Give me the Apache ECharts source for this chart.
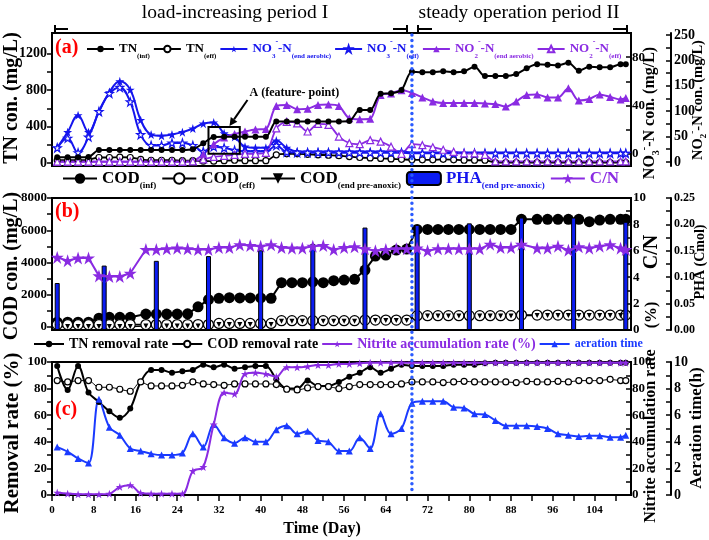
<!DOCTYPE html>
<html>
<head>
<meta charset="utf-8">
<script src="https://cdn.jsdelivr.net/npm/echarts@6.0.0/dist/echarts.min.js"></script>
<style>
html,body{margin:0;padding:0;background:#ffffff;}
#chart{width:709px;height:540px;}
</style>
</head>
<body>
<div id="chart"></div>
<script>
// ---------------- DATA ----------------
const days = [1,3,5,7,9,11,13,15,17,19,
  21,23,25,27,29,31,33,35,37,39,
  41,43,45,47,49,51,53,55,57,59,
  61,63,65,67,69,71,73,75,77,79,
  81,83,85,87,89,91,93,95,97,99,
  101,103,105,107,109,110];

// panel (a)
const tnInf = [62,62,62,65,142,142,142,142,142,142,
  142,142,142,150,216,285,288,288,288,288,
  288,455,455,455,455,455,455,455,460,580,
  580,760,765,800,1000,995,995,1005,995,1005,
  1056,953,953,953,975,1038,1082,1078,1070,1100,
  1012,1056,1049,1049,1082,1082];
const tnEff = [30,30,30,35,60,60,65,60,40,30,
  30,30,25,25,20,20,25,30,25,25,
  25,90,100,100,95,90,85,80,70,60,
  55,50,45,40,35,35,35,40,35,30,
  30,30,5,4,4,4,4,4,4,4,
  4,4,4,4,4,4];
const no3End = [5,18,32,18,35,51,60,53,28,16,
  15,16,18,21,25,26,17,14,6,5,
  5,11,5,2,2,2,2,2,2,2,
  2,2,2,2,1,1,1,1,1,1,
  1,1,1,1,1,1,1,1,1,1,
  1,1,1,1,1,1];
const no3Eff = [5,13,1,14,35,50,55,43,16,7,
  7,9,9,7,2,6,5,3,2,2,
  2,7,1.5,1,1,1,1,1,1,1,
  1,1,1,1,0.5,0.5,0.5,0.5,0.5,0.5,
  0.5,0.5,0.5,0.5,0.5,0.5,0.5,0.5,0.5,0.5,
  0.5,0.5,0.5,0.5,0.5,0.5];
const no2End = [0.5,0.5,0.5,0.5,0.5,0.5,0.5,0.5,0.5,0.5,
  0.5,0.5,0.5,2,15,35,48,55,60,64,
  65,110,112,104,105,112,113,110,86,84,
  85,132,135,141,136,127,119,116,116,116,
  116,115,114,109,119,132,133,127,127,145,
  121,124,133,128,123,126];
const no2Eff = [0.5,0.5,0.5,0.5,0.5,0.5,0.5,0.5,0.5,0.5,
  0.5,0.5,0.5,1,5,10,12,14,16,16,
  18,66,79,76,60,75,73,50,37,35,
  43,40,30,16,35,33,29,24,20,17,
  17,14,1,1,1,1,1,1,1,1,
  1,1,1,1,1,1];

// panel (b)
const codDays = [1,3,5,7,9,11,13,15,
  18,20,22,24,26,28,30,32,34,36,38,40,42,
  44,46,48,50,52,54,56,58,
  60,62,64,66,68,
  70,72,74,76,78,80,82,84,86,88,
  90,
  93,95,97,99,101,103,105,107,109,110];
const codInf = [300,300,300,300,550,600,600,600,
  800,800,800,800,820,1250,1700,1780,1820,1800,1800,1800,1780,
  2750,2750,2750,2800,2750,2870,2910,2960,
  3530,4400,4460,4770,4830,
  6050,6050,6050,6050,6050,6050,6050,6050,6050,6050,
  6680,
  6680,6680,6680,6680,6680,6530,6630,6680,6680,6680];
const codEff = [150,150,150,150,150,150,150,150,
  150,150,150,150,150,150,150,220,220,220,220,220,220,
  390,390,390,390,390,390,390,390,
  430,430,430,430,430,
  700,700,700,700,700,700,700,700,700,700,
  740,
  740,740,740,740,740,740,740,740,740,740];
const codPre = [30,30,30,30,30,30,30,30,
  60,60,60,60,60,60,60,150,150,150,150,150,150,
  360,360,360,360,360,360,360,360,
  400,400,400,400,400,
  680,680,680,680,680,680,680,680,680,680,
  720,
  720,720,720,720,720,720,720,720,720,720];
const cnRatio = [5.5,5.25,5.45,5.45,4.1,4.05,4.05,4.3,
  6.1,6.1,6.15,6.2,6.15,6.1,6.1,6.25,6.25,6.45,6.4,6.35,6.45,
  6.25,6.2,6.2,6.35,6.4,6.1,6.25,6.3,
  6.15,6.0,6.1,6.15,6.15,
  6.2,6.0,6.15,6.15,6.15,6.15,6.15,6.5,6.25,6.25,
  6.5,
  6.2,6.2,6.35,6.05,6.3,6.2,6.35,6.45,6.2,6.1];
const phaDays = [1,10,20,30,40,50,60,70,80,90,100,110];
const phaValues = [0.089,0.122,0.131,0.140,0.151,0.163,0.194,0.199,0.202,0.213,0.213,0.205];

// panel (c)
const tnRemoval = [97,79,97,77,70,63,58,65,85,94,
  94,92,93,94,98,96,98,95,96,97,
  97,87,80,80,86,82,82,85,89,92,
  96,92,95,98,97,97,97,97,98,98,
  98,99,99.5,99.5,99.5,99.5,99.5,99.5,99.5,99.5,
  99.5,99.5,99.5,99.5,99.5,99.5];
const codRemoval = [86,85,86,86,81,81,79.5,78,85,82,
  82,82,82.5,85,83.5,83,82.5,83.5,83.5,83.5,
  83.5,83,79.5,79,80.5,81.5,81.5,80,81.5,83,
  83,83,83,83.5,85,85,85,84.5,85,85.5,
  85,85,85,85,84.5,85.5,85,85,85.5,85,
  86,86,86,87,86,86];
const nitriteAcc = [1.8,1,0.5,0.5,0.5,1,6,7.4,1.5,1,
  1,1,1,18,21,53,77,76,91,92,
  91,89,96,96,96.6,97.7,97.7,98.5,98.5,99,
  99.5,99.5,99.5,99.5,99.5,99.5,99.5,99.5,99.5,99.5,
  99.5,99.5,99.5,99.5,99.5,99.5,99.5,99.5,99.5,99.5,
  99.5,99.5,99.5,99.5,99.5,99.5];
const aerationTime = [3.6,3.25,2.75,2.4,7.2,5.1,4.5,3.5,3.3,3.1,
  3.0,3.0,3.15,4.6,3.6,5.3,4.3,3.9,4.3,4.0,
  4.0,4.9,5.2,4.6,4.8,4.1,4.0,3.3,3.3,4.3,
  3.5,6.1,4.6,5.0,6.9,7.05,7.05,7.05,6.6,6.55,
  6.1,6.05,5.6,5.2,5.2,5.2,5.15,5.0,4.6,4.5,
  4.4,4.45,4.45,4.35,4.35,4.5];

// annotations
const periodBoundaryDay = 69;
const featureBox = {day0: 30, day1: 36, tn0: 100, tn1: 395};

// tick / label values
const xTicks = [0,4,8,12,16,20,24,28,32,36,40,44,48,52,56,60,64,68,72,76,80,84,88,92,96,100,104,108];
const xLabels = [0,8,16,24,32,40,48,56,64,72,80,88,96,104];
const tnTicks = [0,200,400,600,800,1000,1200];
const tnLabels = [0,400,800,1200];
const no3Ticks = [0,20,40,60,80];
const no3Labels = [0,40,80];
const no2Ticks = [0,25,50,75,100,125,150,175,200,225,250];
const no2Labels = [0,50,100,150,200,250];
const codTicks = [0,1000,2000,3000,4000,5000,6000,7000,8000];
const codLabels = [0,2000,4000,6000,8000];
const cnTicks = [0,1,2,3,4,5,6,7,8,9,10];
const cnLabels = [0,2,4,6,8,10];
const phaTicks = [0,0.025,0.05,0.075,0.1,0.125,0.15,0.175,0.2,0.225,0.25];
const phaLabels = [0,0.05,0.1,0.15,0.2,0.25];
const remTicks = [0,10,20,30,40,50,60,70,80,90,100];
const remLabels = [0,20,40,60,80,100];
const aerTicks = [0,1,2,3,4,5,6,7,8,9,10];
const aerLabels = [0,2,4,6,8,10];

// ---------------- STYLE ----------------
const F = 'Liberation Serif';
const BLACK = '#000000', BLUE = '#1515ee', PURPLE = '#8a2be2', ABLUE = '#1a3aff', RED = '#ff0000';
const STAR = 'path://M50,0 L61.8,35.3 L99,35.3 L69,57.1 L80.4,92.7 L50,70.7 L19.6,92.7 L31,57.1 L1,35.3 L38.2,35.3 Z';
const DTRI = 'path://M0,0 L10,0 L5,9 Z';
const GRIDS = [{top: 33, height: 133}, {top: 198, height: 132}, {top: 362, height: 133}];
const GL = 52, GR = 78;

const chart = echarts.init(document.getElementById('chart'), null, {renderer: 'canvas'});

function pts(xs, ys) { return xs.map((x, i) => [x, ys[i]]); }

function yax(gi, pos, min, max, ticks, labels, o) {
  o = o || {};
  const lab = {show: true, customValues: labels, fontFamily: F, fontWeight: 'bold',
    fontSize: o.fs || 13, color: '#000', margin: (o.margin != null ? o.margin : 5),
    formatter: o.fmt || (v => String(v))};
  return {
    type: 'value', gridIndex: gi, position: pos, min: min, max: max, offset: o.offset || 0,
    axisLine: {show: true, onZero: false, lineStyle: {color: '#000', width: 2}},
    axisTick: {show: true, inside: pos === 'right', length: 5, customValues: ticks,
      lineStyle: {color: '#000', width: 1.5}},
    axisLabel: lab,
    splitLine: {show: false}
  };
}

function lineS(name, xi, yi, xs, ys, o) {
  return {
    name: name, type: 'line', xAxisIndex: xi, yAxisIndex: yi, data: pts(xs, ys),
    smooth: o.smooth || false, symbol: o.symbol, symbolSize: o.size,
    lineStyle: {color: o.color, width: o.lw || 1.8},
    itemStyle: {color: o.hollow ? '#ffffff' : o.color, borderColor: o.color, borderWidth: o.hollow ? 1.2 : 0},
    z: o.z || 2, silent: true
  };
}

function richSet(main, sub, lh) {
  const mk = (c, fs, va, l) => ({color: c, fontFamily: F, fontWeight: 'bold', fontSize: fs, lineHeight: l, verticalAlign: va});
  return {
    k: mk(BLACK, main, 'middle', lh), ks: mk(BLACK, sub, 'bottom', sub + 1), ku: mk(BLACK, sub + 1, 'top', sub + 2),
    b: mk(BLUE, main, 'middle', lh), bs: mk(BLUE, sub, 'bottom', sub + 1), bu: mk(BLUE, sub + 1, 'top', sub + 2),
    p: mk(PURPLE, main, 'middle', lh), ps: mk(PURPLE, sub, 'bottom', sub + 1), pu: mk(PURPLE, sub + 1, 'top', sub + 2),
    a: mk(ABLUE, main, 'middle', lh)
  };
}

const legAText = {
  'TN(inf)': '{k|TN}{ks|(inf)}',
  'TN(eff)': '{k|TN}{ks|(eff)}',
  'NO3-N(end aerobic)': '{b|NO}{bs|3}{bu|-}{b|-N}{bs|(end aerobic)}',
  'NO3-N(eff)': '{b|NO}{bs|3}{bu|-}{b|-N}{bs|(eff)}',
  'NO2-N(end aerobic)': '{p|NO}{ps|2}{pu|-}{p|-N}{ps|(end aerobic)}',
  'NO2-N(eff)': '{p|NO}{ps|2}{pu|-}{p|-N}{ps|(eff)}'
};
const legBText = {
  'COD(inf)': '{k|COD}{ks|(inf)}',
  'COD(eff)': '{k|COD}{ks|(eff)}',
  'COD(end pre-anoxic)': '{k|COD}{ks|(end pre-anoxic)}',
  'PHA(end pre-anoxic)': '{b|PHA}{bs|(end pre-anoxic)}',
  'C/N': '{p|C/N}'
};
const legCText = {
  'TN removal rate': '{k|TN removal rate}',
  'COD removal rate': '{k|COD removal rate}',
  'Nitrite accumulation rate (%)': '{p|Nitrite accumulation rate (%)}',
  'aeration time': '{a|aeration time}'
};
const legCRich = richSet(14, 8, 20);
legCRich.a = {color: ABLUE, fontFamily: F, fontWeight: 'bold', fontSize: 12, lineHeight: 20, verticalAlign: 'middle'};

const option = {
  animation: false,
  backgroundColor: '#ffffff',
  grid: GRIDS.map(g => ({left: GL, right: GR, top: g.top, height: g.height, show: true,
    borderColor: '#000', borderWidth: 2, backgroundColor: 'transparent'})),
  xAxis: [0, 1, 2].map(i => ({
    type: 'value', gridIndex: i, min: 0, max: 111,
    axisLine: {show: true, onZero: false, lineStyle: {color: '#000', width: 2}},
    axisTick: i === 2 ? {show: true, length: 6, customValues: xTicks, lineStyle: {color: '#000', width: 1.5}} : {show: false},
    axisLabel: i === 2 ? {show: true, customValues: xLabels, fontFamily: F, fontWeight: 'bold', fontSize: 11, color: '#000', margin: 10, formatter: v => String(v)} : {show: false},
    splitLine: {show: false}
  })),
  yAxis: [
    yax(0, 'left', -33, 1425, tnTicks, tnLabels, {fs: 14}),
    yax(0, 'right', -10, 100, no3Ticks, no3Labels, {margin: 1}),
    yax(0, 'right', -8, 254, no2Ticks, no2Labels, {offset: 40, margin: 3, fs: 14}),
    yax(1, 'left', -186, 8000, codTicks, codLabels, {fs: 13}),
    yax(1, 'right', 0, 10, cnTicks, cnLabels, {margin: 2}),
    yax(1, 'right', 0, 0.25, phaTicks, phaLabels, {offset: 40, margin: 3, fs: 12, fmt: v => Number(v).toFixed(2)}),
    yax(2, 'left', 0, 100, remTicks, remLabels, {fs: 13}),
    yax(2, 'right', 0, 100, remTicks, remLabels, {margin: 1}),
    yax(2, 'right', 0, 10, aerTicks, aerLabels, {offset: 40, margin: 3, fs: 14})
  ],
  legend: [
    {left: 86, top: 38, padding: 0, itemWidth: 27, itemHeight: 8, itemGap: 3, selectedMode: false,
      data: Object.keys(legAText), formatter: n => legAText[n], textStyle: {rich: richSet(13, 7, 22)}},
    {left: 62, top: 170, padding: 0, itemWidth: 34, itemHeight: 13, itemGap: 5, selectedMode: false,
      data: Object.keys(legBText), formatter: n => legBText[n], textStyle: {rich: richSet(17, 9, 24)}},
    {left: 33, top: 337, padding: 0, itemWidth: 30, itemHeight: 8, itemGap: 3, selectedMode: false,
      data: Object.keys(legCText), formatter: n => legCText[n], textStyle: {rich: legCRich}}
  ],
  series: [
    // panel a
    lineS('TN(inf)', 0, 0, days, tnInf, {color: BLACK, symbol: 'circle', size: 6, smooth: 0.3, lw: 2, z: 4}),
    lineS('TN(eff)', 0, 0, days, tnEff, {color: BLACK, symbol: 'circle', size: 6, smooth: 0.3, lw: 1.8, hollow: true, z: 3}),
    lineS('NO3-N(end aerobic)', 0, 1, days, no3End, {color: BLUE, symbol: STAR, size: 9, smooth: 0.4, lw: 2, z: 3}),
    lineS('NO3-N(eff)', 0, 1, days, no3Eff, {color: BLUE, symbol: STAR, size: 8, smooth: 0.4, lw: 2, hollow: true, z: 3}),
    lineS('NO2-N(end aerobic)', 0, 2, days, no2End, {color: PURPLE, symbol: 'triangle', size: 8, smooth: 0.3, lw: 2, z: 3}),
    lineS('NO2-N(eff)', 0, 2, days, no2Eff, {color: PURPLE, symbol: 'triangle', size: 7, smooth: 0.3, lw: 1.8, hollow: true, z: 3}),
    // panel b
    lineS('COD(inf)', 1, 3, codDays, codInf, {color: BLACK, symbol: 'circle', size: 11, lw: 2, z: 2}),
    lineS('COD(eff)', 1, 3, codDays, codEff, {color: BLACK, symbol: 'circle', size: 10, lw: 1.5, hollow: true, z: 2}),
    lineS('COD(end pre-anoxic)', 1, 3, codDays, codPre, {color: BLACK, symbol: DTRI, size: 5, lw: 1.5, z: 2}),
    {name: 'PHA(end pre-anoxic)', type: 'bar', xAxisIndex: 1, yAxisIndex: 5, data: pts(phaDays, phaValues),
      barWidth: 5, itemStyle: {color: '#0b1cf2', borderColor: '#000', borderWidth: 1}, z: 3, silent: true},
    lineS('C/N', 1, 4, codDays, cnRatio, {color: PURPLE, symbol: STAR, size: 13, lw: 2, z: 4}),
    // panel c
    lineS('TN removal rate', 2, 6, days, tnRemoval, {color: BLACK, symbol: 'circle', size: 6, smooth: 0.35, lw: 2, z: 3}),
    lineS('COD removal rate', 2, 6, days, codRemoval, {color: BLACK, symbol: 'circle', size: 6, smooth: 0.3, lw: 1, hollow: true, z: 3}),
    lineS('Nitrite accumulation rate (%)', 2, 7, days, nitriteAcc, {color: PURPLE, symbol: STAR, size: 8, smooth: 0.35, lw: 2, z: 4}),
    lineS('aeration time', 2, 8, days, aerationTime, {color: ABLUE, symbol: 'triangle', size: 7, smooth: 0.35, lw: 2, z: 3})
  ]
};
chart.setOption(option);

// ---------------- ANNOTATIONS ----------------
function txt(x, y, text, fs, o) {
  o = o || {};
  return {type: 'text', x: x, y: y, rotation: o.rot || 0, silent: true, z: 50,
    style: {text: text, fontFamily: F, fontWeight: o.w || 'bold', fontSize: fs, fill: o.color || '#000',
      align: o.align || 'center', verticalAlign: 'middle', rich: o.rich}};
}
function seg(x1, y1, x2, y2, w, color, extra) {
  return {type: 'line', silent: true, z: 50, shape: {x1: x1, y1: y1, x2: x2, y2: y2},
    style: Object.assign({stroke: color || '#000', lineWidth: w || 2}, extra || {})};
}
function nameRich(fs, sfs) {
  return {
    m: {fontFamily: F, fontWeight: 'bold', fontSize: fs, lineHeight: fs + 6, verticalAlign: 'middle', color: '#000'},
    s: {fontFamily: F, fontWeight: 'bold', fontSize: sfs, lineHeight: sfs + 1, verticalAlign: 'bottom', color: '#000'},
    u: {fontFamily: F, fontWeight: 'bold', fontSize: sfs, lineHeight: sfs + 1, verticalAlign: 'top', color: '#000'}
  };
}
const R90 = Math.PI / 2;
const xb = chart.convertToPixel({xAxisIndex: 2}, periodBoundaryDay);
const p0 = chart.convertToPixel({xAxisIndex: 0, yAxisIndex: 0}, [featureBox.day0, featureBox.tn1]);
const p1 = chart.convertToPixel({xAxisIndex: 0, yAxisIndex: 0}, [featureBox.day1, featureBox.tn0]);
const hx = p0[0] + 21, hy = p0[1] - 1, tx = p0[0] + 39, ty = p0[1] - 27;
const ang = Math.atan2(hy - ty, hx - tx);
const ah = 8, aw = 4;
const bx = hx - ah * Math.cos(ang), by = hy - ah * Math.sin(ang);
const arrowHead = [[hx, hy], [bx + aw * Math.sin(ang), by - aw * Math.cos(ang)], [bx - aw * Math.sin(ang), by + aw * Math.cos(ang)]];

const gTop = GRIDS[0].top + 2, gBot = GRIDS[2].top + GRIDS[2].height;

chart.setOption({
  graphic: [
    // period titles and brackets
    txt(235, 13, 'load-increasing period I', 19.5, {w: 'normal'}),
    txt(519, 13, 'steady operation period II', 19.5, {w: 'normal'}),
    seg(55, 25, 55, 33), seg(55, 29, 68, 29),
    seg(393, 29, 407, 29), seg(407, 25, 407, 33),
    seg(418, 25, 418, 33), seg(418, 29, 432, 29),
    seg(613, 29, 627, 29), seg(627, 25, 627, 33),
    // panel labels
    txt(55, 48, '(a)', 20, {color: RED, align: 'left'}),
    txt(55, 212, '(b)', 20, {color: RED, align: 'left'}),
    txt(55, 410, '(c)', 20, {color: RED, align: 'left'}),
    // left axis names
    txt(12, 98, 'TN con. (mg/L)', 20, {rot: R90}),
    txt(12, 266, 'COD con. (mg/L)', 20, {rot: R90}),
    txt(13, 433, 'Removal rate (%)', 21, {rot: R90}),
    // right axis names
    txt(650, 113, '{m|NO}{s|3}{u|-}{m|-N con. (mg/L)}', 16, {rot: R90, rich: nameRich(16, 10)}),
    txt(698, 100, '{m|NO}{s|2}{u|-}{m|-N con. (mg/L)}', 14.5, {rot: R90, rich: nameRich(14.5, 9)}),
    txt(652, 252, 'C/N', 20, {rot: R90}),
    txt(700, 262, 'PHA (Cmol)', 14, {rot: R90}),
    txt(652, 315, '(%)', 16, {rot: R90}),
    txt(651, 436, 'Nitrite accumulation rate', 16, {rot: R90}),
    txt(697, 428, 'Aeration time(h)', 17, {rot: R90}),
    // x axis name
    txt(322, 529, 'Time (Day)', 16),
    // feature point annotation
    {type: 'rect', silent: true, z: 50, shape: {x: p0[0], y: p0[1], width: p1[0] - p0[0], height: p1[1] - p0[1]},
      style: {fill: 'transparent', stroke: '#000', lineWidth: 2}},
    seg(tx, ty, bx, by, 2),
    {type: 'polygon', silent: true, z: 50, shape: {points: arrowHead}, style: {fill: '#000'}},
    txt(p0[0] + 41, p0[1] - 34, 'A (feature- point)', 12, {align: 'left'}),
    // period boundary dotted line
    seg(xb, gTop, xb, gBot, 3.5, '#2b5bff', {lineDash: [0.01, 5.6], lineCap: 'round'})
  ]
});
</script>
</body>
</html>
